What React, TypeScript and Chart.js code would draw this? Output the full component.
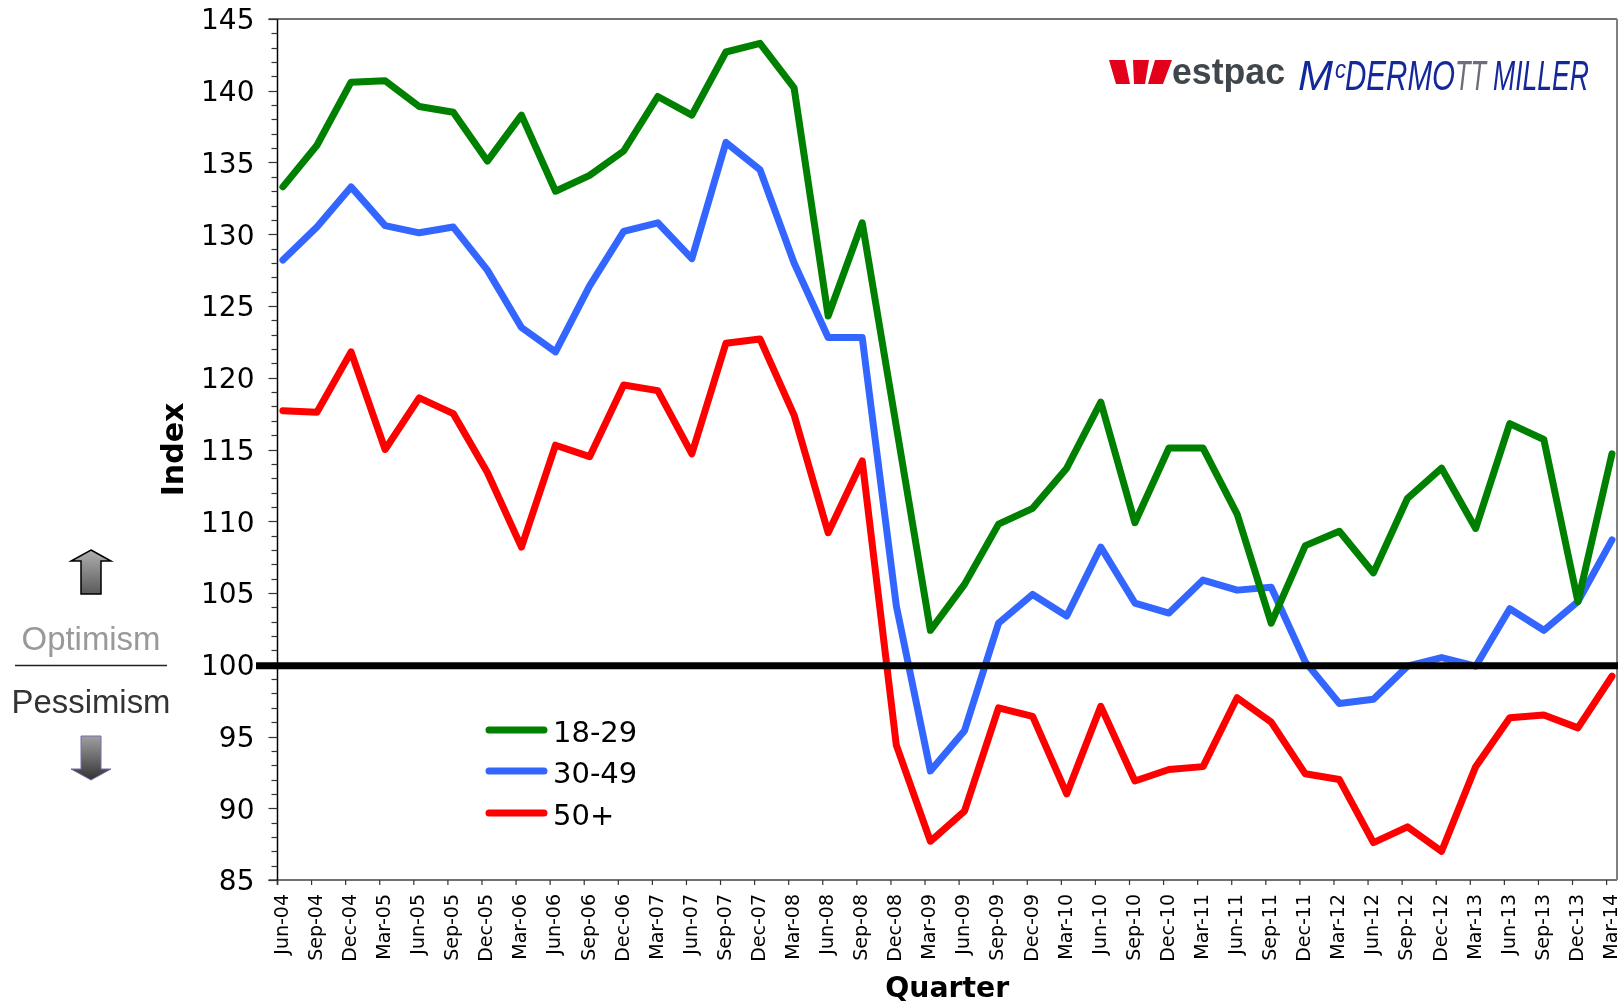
import React, { useEffect, useRef } from "react";
import { Chart, registerables } from "chart.js";

Chart.register(...registerables);

const quarters = ["Jun-04","Sep-04","Dec-04","Mar-05","Jun-05","Sep-05","Dec-05","Mar-06","Jun-06","Sep-06","Dec-06","Mar-07","Jun-07","Sep-07","Dec-07","Mar-08","Jun-08","Sep-08","Dec-08","Mar-09","Jun-09","Sep-09","Dec-09","Mar-10","Jun-10","Sep-10","Dec-10","Mar-11","Jun-11","Sep-11","Dec-11","Mar-12","Jun-12","Sep-12","Dec-12","Mar-13","Jun-13","Sep-13","Dec-13","Mar-14"];
const age18to29 = [133.3,136.2,140.6,140.7,138.9,138.5,135.1,138.3,133,134.1,135.8,139.6,138.3,142.7,143.3,140.2,124.3,130.8,116.6,102.4,105.6,109.8,110.9,113.7,118.3,109.9,115.1,115.1,110.5,102.9,108.3,109.3,106.4,111.6,113.7,109.5,116.8,115.7,104.4,114.7];
const age30to49 = [128.2,130.5,133.3,130.6,130.1,130.5,127.5,123.5,121.8,126.4,130.2,130.8,128.3,136.4,134.5,128,122.8,122.8,104.1,92.6,95.4,102.9,104.9,103.4,108.2,104.3,103.6,105.9,105.2,105.4,100.2,97.3,97.6,99.9,100.5,99.9,103.9,102.4,104.4,108.7];
const age50plus = [117.7,117.6,121.8,115,118.6,117.5,113.4,108.2,115.3,114.5,119.5,119.1,114.7,122.4,122.7,117.4,109.2,114.2,94.4,87.7,89.8,97,96.4,91,97.1,91.9,92.7,92.9,97.7,96,92.4,92,87.6,88.7,87,92.9,96.3,96.5,95.6,99.2];
const seriesLabels = ["18-29", "30-49", "50+"];
const seriesColors = ["#008000", "#3366FF", "#FF0000"];
const seriesValues = [age18to29, age30to49, age50plus];
const neutralLevel = 100;
const tickShift = 0.158;

const toPoints = (values: number[]) => values.map((y, x) => ({ x, y }));

const arrow = (ctx: CanvasRenderingContext2D, pts: number[][], top: number, bottom: number, c0: string, c1: string, stroke: string, lw: number) => {
  const g = ctx.createLinearGradient(0, top, 0, bottom);
  g.addColorStop(0, c0);
  g.addColorStop(1, c1);
  ctx.beginPath();
  pts.forEach(([x, y], i) => (i ? ctx.lineTo(x, y) : ctx.moveTo(x, y)));
  ctx.closePath();
  ctx.fillStyle = g;
  ctx.fill();
  ctx.strokeStyle = stroke;
  ctx.lineWidth = lw;
  ctx.stroke();
};

const framePlugin = {
  id: "frame",
  beforeDraw(chart: any) {
    // nudge the y labels down so that the digits sit centred on their ticks
    chart.scales.y.getLabelItems(chart.chartArea).forEach((item: any) => {
      if (!item.nudged) {
        item.textOffset += 3;
        item.nudged = true;
      }
    });
  },
  beforeDatasetsDraw(chart: any) {
    const { ctx, chartArea: a, scales } = chart;
    ctx.save();
    ctx.lineWidth = 1.5;
    ctx.strokeStyle = "#444444";
    ctx.beginPath();
    ctx.moveTo(a.left - 9, a.top);
    ctx.lineTo(a.right, a.top);
    ctx.moveTo(a.left - 9, a.bottom);
    ctx.lineTo(a.right, a.bottom);
    ctx.stroke();
    ctx.strokeStyle = "#808080";
    ctx.lineWidth = 2;
    ctx.beginPath();
    ctx.moveTo(a.right, a.top);
    ctx.lineTo(a.right, a.bottom);
    ctx.stroke();
    ctx.strokeStyle = "#000000";
    ctx.lineWidth = 1.5;
    ctx.beginPath();
    ctx.moveTo(a.left, a.top);
    ctx.lineTo(a.left, a.bottom + 5);
    ctx.stroke();
    ctx.strokeStyle = "#333333";
    ctx.lineWidth = 1.2;
    for (let v = scales.y.min; v <= scales.y.max; v++) {
      const y = Math.round(scales.y.getPixelForValue(v)) + 0.5;
      const len = v % 5 === 0 ? 9 : 6;
      ctx.beginPath();
      ctx.moveTo(a.left - len, y);
      ctx.lineTo(a.left, y);
      ctx.stroke();
    }
    quarters.forEach((_, i) => {
      const x = scales.x.getPixelForValue(i - tickShift);
      ctx.beginPath();
      ctx.moveTo(x, a.bottom);
      ctx.lineTo(x, a.bottom + 5);
      ctx.stroke();
    });
    ctx.restore();
  },
  afterDatasetsDraw(chart: any) {
    const { ctx, chartArea: a, scales } = chart;
    ctx.save();
    const y100 = scales.y.getPixelForValue(neutralLevel) + 1;
    ctx.strokeStyle = "#000000";
    ctx.lineWidth = 7;
    ctx.beginPath();
    ctx.moveTo(256, y100);
    ctx.lineTo(a.right + 1, y100);
    ctx.stroke();

    const legendY = [730, 771, 813];
    ctx.textBaseline = "middle";
    ctx.textAlign = "left";
    seriesLabels.forEach((label, i) => {
      ctx.strokeStyle = seriesColors[i];
      ctx.lineWidth = 7;
      ctx.lineCap = "round";
      ctx.beginPath();
      ctx.moveTo(489, legendY[i]);
      ctx.lineTo(544, legendY[i]);
      ctx.stroke();
      ctx.fillStyle = "#000000";
      ctx.font = '29px "DejaVu Sans"';
      ctx.fillText(label, 553, legendY[i] + 4);
    });
    ctx.lineCap = "butt";

    ctx.textBaseline = "alphabetic";
    ctx.textAlign = "center";
    ctx.font = '32.9px "Liberation Sans"';
    ctx.fillStyle = "#999999";
    ctx.fillText("Optimism", 91, 650);
    ctx.fillStyle = "#333333";
    ctx.fillText("Pessimism", 91, 713);
    ctx.strokeStyle = "#222222";
    ctx.lineWidth = 1.5;
    ctx.beginPath();
    ctx.moveTo(15, 665.5);
    ctx.lineTo(167, 665.5);
    ctx.stroke();
    arrow(ctx, [[91, 550], [111, 561], [101, 561], [101, 594], [81, 594], [81, 561], [71, 561]], 550, 594, "#b0b0b0", "#5a5a5a", "#000000", 1.5);
    arrow(ctx, [[81, 736], [101, 736], [101, 769], [111, 769], [91, 780], [71, 769], [81, 769]], 736, 780, "#a0a0a0", "#333333", "#7070a8", 1);

    ctx.fillStyle = "#E2001A";
    const wedges = [
      [[1109, 60], [1125, 60], [1130, 84], [1116, 84]],
      [[1133, 60], [1149, 60], [1145, 84], [1134, 84]],
      [[1155, 60], [1172, 60], [1163, 84], [1148, 84]],
    ];
    wedges.forEach((w) => {
      ctx.beginPath();
      w.forEach(([x, y], i) => (i ? ctx.lineTo(x, y) : ctx.moveTo(x, y)));
      ctx.closePath();
      ctx.fill();
    });
    ctx.textAlign = "left";
    ctx.fillStyle = "#3f474c";
    ctx.font = 'bold 36px "Liberation Sans"';
    ctx.fillText("estpac", 1172, 84, 113);
    const blue = "#14289a";
    const big = 'italic 400 42px "Liberation Sans"';
    ctx.font = big;
    ctx.fillStyle = blue;
    ctx.fillText("M", 1298, 90, 37);
    ctx.font = 'italic 400 26px "Liberation Sans"';
    ctx.fillText("c", 1335, 78, 11);
    ctx.font = big;
    ctx.fillText("DERMO", 1345, 90, 110);
    ctx.fillStyle = "#6a6e7a";
    ctx.fillText("TT", 1455, 90, 31);
    ctx.fillStyle = blue;
    ctx.fillText("MILLER", 1493, 90, 96);
    ctx.restore();
  },
};

export default function App() {
  const ref = useRef<HTMLCanvasElement>(null);
  useEffect(() => {
    document.body.style.margin = "0";
    const chart = new Chart(ref.current as HTMLCanvasElement, {
      type: "line",
      data: {
        datasets: seriesLabels.map((label, i) => ({
          label,
          data: toPoints(seriesValues[i]),
          borderColor: seriesColors[i],
          backgroundColor: seriesColors[i],
          borderWidth: 7,
          pointRadius: 0,
          tension: 0,
          borderJoinStyle: "round",
          borderCapStyle: "round",
          clip: false,
        })),
      },
      options: {
        animation: false,
        responsive: false,
        layout: { padding: { top: 19, left: 157, right: 6, bottom: 0 } },
        plugins: { legend: { display: false }, tooltip: { enabled: false } },
        scales: {
          x: {
            type: "linear",
            min: -tickShift,
            max: 39.147,
            afterBuildTicks: (s: any) => {
              s.ticks = quarters.map((_, i) => ({ value: i }));
            },
            afterFit: (s: any) => {
              s.height = 127;
              s.paddingLeft = 0;
              s.paddingRight = 0;
            },
            grid: { display: false, drawTicks: false },
            border: { display: false },
            ticks: {
              autoSkip: false,
              minRotation: 90,
              maxRotation: 90,
              padding: 14,
              color: "#000000",
              font: { family: '"DejaVu Sans"', size: 19 },
              callback: (v: any) => quarters[v],
            },
            title: {
              display: true,
              text: "Quarter",
              color: "#000000",
              font: { family: '"DejaVu Sans"', size: 28.3, weight: "bold" },
              padding: { top: 0, bottom: 0 },
            },
          },
          y: {
            min: 85,
            max: 145,
            afterFit: (s: any) => {
              s.width = 120.5;
              s.paddingTop = 0;
              s.paddingBottom = 0;
            },
            grid: { display: false, drawTicks: false },
            border: { display: false },
            ticks: {
              stepSize: 5,
              padding: 23,
              color: "#000000",
              font: { family: '"DejaVu Sans"', size: 28 },
            },
            title: {
              display: true,
              text: "Index",
              color: "#000000",
              font: { family: '"DejaVu Sans"', size: 30, weight: "bold" },
              padding: { top: 0, bottom: 0 },
            },
          },
        },
      },
      plugins: [framePlugin],
    } as any);
    return () => chart.destroy();
  }, []);
  return <canvas ref={ref} width={1623} height={1007} style={{ display: "block" }} />;
}
